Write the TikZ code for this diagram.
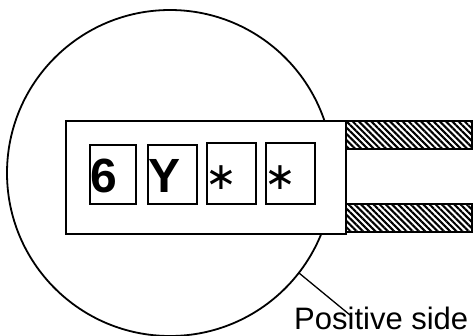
\documentclass[tikz,border=0pt]{standalone}
\usepackage{fontspec}
\setmainfont{Liberation Sans}
\newfontfamily\symfont{DejaVu Sans}
\usetikzlibrary{patterns.meta}
\tikzset{
  x=1pt,y=-1pt,
  outline/.style={draw=black,line width=1.8pt},
  body/.style={outline,fill=white,rectangle,minimum width=280pt,minimum height=113pt,inner sep=0pt,anchor=north west},
  cell/.style={draw=black,line width=1.5pt,fill=white,rectangle,inner sep=0pt,anchor=north west},
  bold char/.style={font=\fontsize{48}{48}\selectfont\bfseries,inner sep=0pt},
  star char/.style={font=\fontsize{38}{38}\selectfont\symfont,inner sep=0pt},
  lead/.style={outline,pattern={Lines[angle=-45,distance=4.4pt,line width=2.1pt]},pattern color=black,rectangle,minimum width=126pt,minimum height=28pt,inner sep=0pt,anchor=north west},
}
\begin{document}
\begin{tikzpicture}
\useasboundingbox (0,0) rectangle (473,335);
\begin{scope}
\clip (0,0) rectangle (473,335);
\node[outline,circle,minimum size=326pt,inner sep=0pt] (disc) at (170,173) {};
\end{scope}
\node[lead] (leadA) at (345,120) {};
\node[lead] (leadB) at (345,203) {};
\node[body] (pkg) at (65,120) {};
\node[cell,minimum width=46pt,minimum height=59pt] (c1) at (89,144) {};
\node[cell,minimum width=49pt,minimum height=59pt] (c2) at (147,144) {};
\node[cell,minimum width=49pt,minimum height=61pt] (c3) at (206,142) {};
\node[cell,minimum width=49pt,minimum height=61pt] (c4) at (265,142) {};
\node[bold char,anchor=base] (t1) at (104,192) {6};
\node[bold char,anchor=base] (t2) at (165,192) {Y};
\node[star char,anchor=base] (t3) at (221,189) {∗};
\node[star char,anchor=base] (t4) at (280,189) {∗};
\node[inner sep=0pt,anchor=base west,font=\fontsize{31}{31}\selectfont] (lab) at (294,329) {Positive side};
\coordinate (tick) at (299,273);
\coordinate (tip) at (350,315);
\draw[line width=1.3pt] (tick) -- (tip);
\end{tikzpicture}
\end{document}
